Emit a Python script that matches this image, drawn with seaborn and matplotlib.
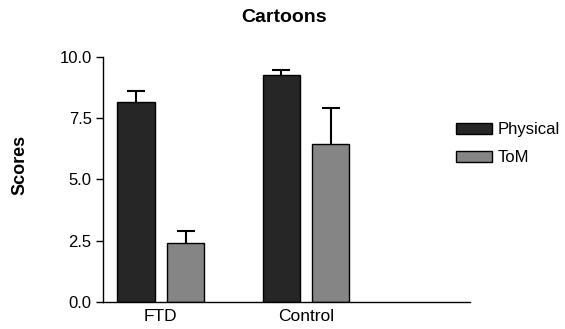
import pandas as pd
import matplotlib
matplotlib.use('Agg')
import matplotlib.pyplot as plt
import seaborn as sns

# Data
groups = ['FTD', 'Control']
conditions = ['Physical', 'ToM']
physical = [8.15, 9.25]
physical_err = [0.45, 0.22]
tom = [2.42, 6.44]
tom_err = [0.49, 1.49]

df = pd.DataFrame({
    'group': groups * 2,
    'condition': ['Physical'] * 2 + ['ToM'] * 2,
    'score': physical + tom,
    'err': physical_err + tom_err,
})

sns.set_style('ticks')
plt.rcParams['font.family'] = ['Liberation Sans', 'DejaVu Sans']
plt.rcParams['text.color'] = 'black'

fig = plt.figure(figsize=(5.65, 3.29), dpi=100)
ax = fig.add_axes([0.182, 0.082, 0.650, 0.745])

palette = {'Physical': '#262626', 'ToM': '#858585'}
sns.barplot(data=df, x='group', y='score', hue='condition', hue_order=conditions,
            order=groups, palette=palette, width=0.68, gap=0.24,
            edgecolor='black', linewidth=1.0, errorbar=None, ax=ax, saturation=1)

# upward-only error bars, placed at the bar centres seaborn drew
for bars, cond in zip(ax.containers, conditions):
    sub = df[df['condition'] == cond].set_index('group').loc[groups]
    xs = [b.get_x() + b.get_width() / 2 for b in bars]
    eb = ax.errorbar(xs, sub['score'], yerr=[[0] * len(xs), sub['err']], fmt='none',
                     ecolor='black', elinewidth=1.5, capsize=6.8, capthick=1.5)
    eb[1][0].set_visible(False)  # hide the cap sitting on the bar top

ax.set_ylim(0, 10)
ax.set_yticks([0, 2.5, 5.0, 7.5, 10.0])
ax.set_yticklabels(['0.0', '2.5', '5.0', '7.5', '10.0'])
ax.set_xlim(-0.40, 2.13)
ax.set_xlabel('')
ax.set_ylabel('')
ax.tick_params(axis='y', labelsize=12, length=5, width=1, pad=3, color='black', labelcolor='black')
ax.tick_params(axis='x', labelsize=12.5, length=0, pad=5, labelcolor='black')
for s in ['left', 'bottom']:
    ax.spines[s].set_color('black')
    ax.spines[s].set_linewidth(1.0)
sns.despine(ax=ax)

leg = ax.legend(loc='upper left', bbox_to_anchor=(456 / 565, 1 - 122 / 329),
                bbox_transform=fig.transFigure, frameon=False, fontsize=12,
                borderpad=0, borderaxespad=0, handlelength=2.15, handleheight=0.66,
                labelspacing=0.8, handletextpad=0.36)

fig.text(0.502, 0.948, 'Cartoons', ha='center', va='center', fontsize=14, fontweight='bold')
fig.text(0.036, 0.50, 'Scores', ha='center', va='center', rotation=90,
         fontsize=13, fontweight='bold')

fig.savefig('out.png', dpi=100)
